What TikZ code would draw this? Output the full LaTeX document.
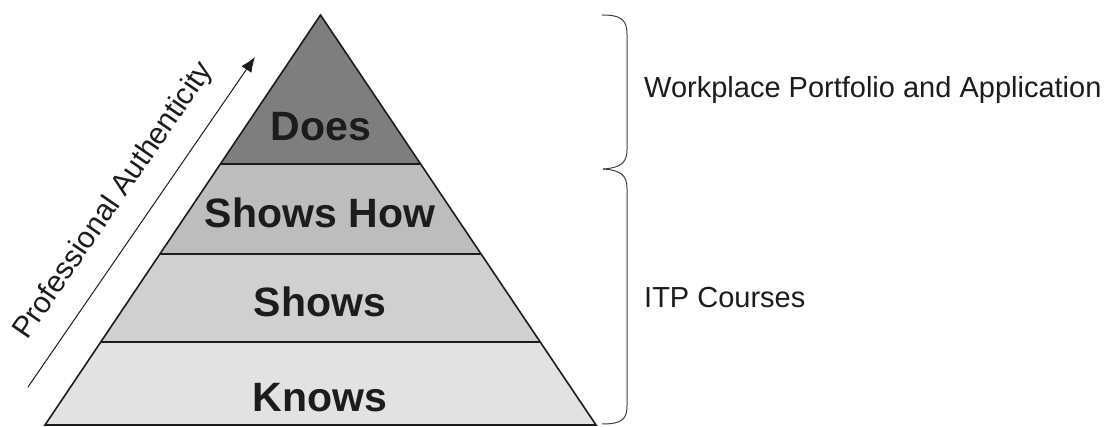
\documentclass[tikz,border=0pt]{standalone}
\usepackage{fontspec}
\setmainfont{Liberation Sans}
\usetikzlibrary{arrows.meta}
\definecolor{doesgray}{HTML}{7E7E7E}
\definecolor{howgray}{HTML}{BDBDBD}
\definecolor{showsgray}{HTML}{D0D0D0}
\definecolor{knowsgray}{HTML}{E2E2E2}
\definecolor{inkgray}{HTML}{1C1C1C}
\tikzset{
  layer/.style={line width=1.6pt, draw=inkgray},
  divider/.style={line width=1.4pt, draw=inkgray},
  levellabel/.style={font=\bfseries\fontsize{41}{48}\selectfont, text=inkgray, inner sep=0pt},
  sidelabel/.style={font=\fontsize{29}{34}\selectfont, text=inkgray, anchor=west, inner sep=0pt},
  bracket/.style={line width=1pt, draw=black!75},
}
\begin{document}
\begin{tikzpicture}[x=1pt,y=-1pt]
  \useasboundingbox (0,0) rectangle (1106,427);
  % pyramid corners and layer edges (half width grows linearly from the apex)
  \coordinate (apex) at (320.5,15);
  \coordinate (bl) at (45,425);
  \coordinate (br) at (596,425);
  \coordinate (l1) at (220.4,164);
  \coordinate (r1) at (420.6,164);
  \coordinate (l2) at (159.9,254);
  \coordinate (r2) at (481.1,254);
  \coordinate (l3) at (100.8,342);
  \coordinate (r3) at (540.2,342);
  % layer fills
  \fill[doesgray] (apex) -- (r1) -- (l1) -- cycle;
  \fill[howgray] (l1) -- (r1) -- (r2) -- (l2) -- cycle;
  \fill[showsgray] (l2) -- (r2) -- (r3) -- (l3) -- cycle;
  \fill[knowsgray] (l3) -- (r3) -- (br) -- (bl) -- cycle;
  % dividers and outline
  \draw[divider] (l1) -- (r1);
  \draw[divider] (l2) -- (r2);
  \draw[divider] (l3) -- (r3);
  \draw[layer, line join=miter] (apex) -- (br) -- (bl) -- cycle;
  % level labels
  \node[levellabel] (does) at (321,127) {Does};
  \node[levellabel] (showshow) at (320,213) {Shows How};
  \node[levellabel] (shows) at (320,302) {Shows};
  \node[levellabel] (knows) at (320,398) {Knows};
  % authenticity arrow
  \coordinate (arrowstart) at (28,387);
  \coordinate (arrowtip) at (255,57);
  \draw[line width=1pt, inkgray, -{Latex[length=15pt,width=12pt]}] (arrowstart) -- (arrowtip);
  \node[font=\fontsize{30}{34}\selectfont, text=inkgray, rotate=55.5, inner sep=0pt] (auth) at (114,201) {Professional Authenticity};
  % right-hand brackets
  \draw[bracket] (602,15) .. controls (620,15) and (627,19) .. (627,34)
    -- (627,150) .. controls (627,163) and (620,168) .. (603,169);
  \draw[bracket] (603,169) .. controls (620,170) and (627,175) .. (627,188)
    -- (627,406) .. controls (627,420) and (621,424) .. (602,424);
  \node[sidelabel] (workplace) at (644,90) {Workplace Portfolio and Application};
  \node[sidelabel] (itp) at (644,298) {ITP Courses};
\end{tikzpicture}
\end{document}
